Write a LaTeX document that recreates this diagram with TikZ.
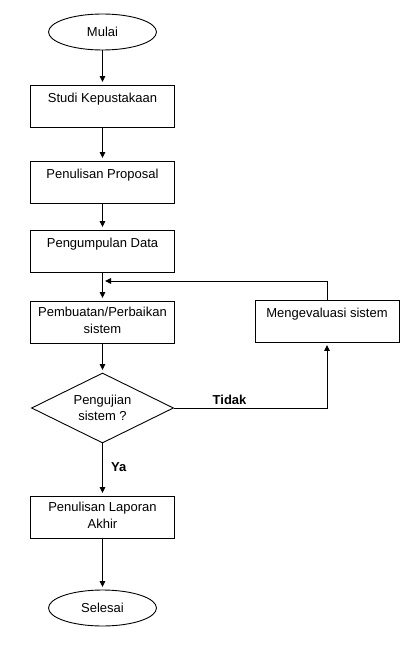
\documentclass[tikz,border=0pt]{standalone}
\usepackage{fontspec}
\setmainfont{Liberation Sans}
\usetikzlibrary{shapes.geometric,arrows.meta,calc}
\begin{document}
\begin{tikzpicture}[x=1pt,y=-1pt,
  every node/.style={font=\fontsize{13}{16.5}\selectfont},
  box/.style={draw,line width=0.9pt,minimum width=144pt,minimum height=42pt,inner sep=0pt},
  boxtxt/.style={anchor=north,inner sep=0pt,align=center,yshift=-8pt},
  boxtxttwo/.style={anchor=north,inner sep=0pt,align=center,yshift=-6.5pt},
  ell/.style={draw,ellipse,line width=0.9pt,minimum width=108pt,minimum height=36pt,inner sep=0pt},
  dec/.style={draw,diamond,line width=0.9pt,minimum width=142pt,minimum height=70pt,inner sep=0pt,aspect=2,align=center},
  lbl/.style={font=\fontsize{13}{16.5}\selectfont\bfseries,inner sep=0pt},
  conn/.style={line width=0.9pt,-{Triangle[length=6pt,width=5.5pt]},shorten >=2.5pt},
]
\useasboundingbox (0,0) rectangle (415,647);

\node[ell] (mulai) at (102.5,32) {Mulai};
\node[box,label={[boxtxt]north:Studi Kepustakaan}] (studi) at (102.5,106) {};
\node[box,label={[boxtxt]north:Penulisan Proposal}] (proposal) at (102.5,182) {};
\node[box,label={[boxtxt]north:Pengumpulan Data}] (data) at (102.5,251) {};
\node[box,label={[boxtxttwo]north:{Pembuatan/Perbaikan\\sistem}}] (buat) at (102.5,322) {};
\node[box,label={[boxtxt]north:Mengevaluasi sistem}] (eval) at (327,321) {};
\node[dec] (uji) at (102.5,408) {Pengujian\\sistem ?};
\node[box,label={[boxtxttwo]north:{Penulisan Laporan\\Akhir}}] (laporan) at (102.5,517) {};
\node[ell] (selesai) at (102.5,608) {Selesai};

\coordinate (join) at (102.5,281);

\draw[conn] (mulai) -- (studi);
\draw[conn] (studi) -- (proposal);
\draw[conn] (proposal) -- (data);
\draw[conn] (data) -- (buat);
\draw[conn] (buat) -- (uji);
\draw[conn] (uji) -- (laporan);
\draw[conn] (laporan) -- (selesai);
\draw[conn] (uji.east) -- (eval.south |- uji.east) -- (eval.south);
\draw[conn] (eval.north) -- (eval.north |- join) -- (join);

\node[lbl,anchor=base west] (tidak) at (212.5,404.3) {Tidak};
\node[lbl,anchor=base west] (ya) at (111,471) {Ya};
\end{tikzpicture}
\end{document}
